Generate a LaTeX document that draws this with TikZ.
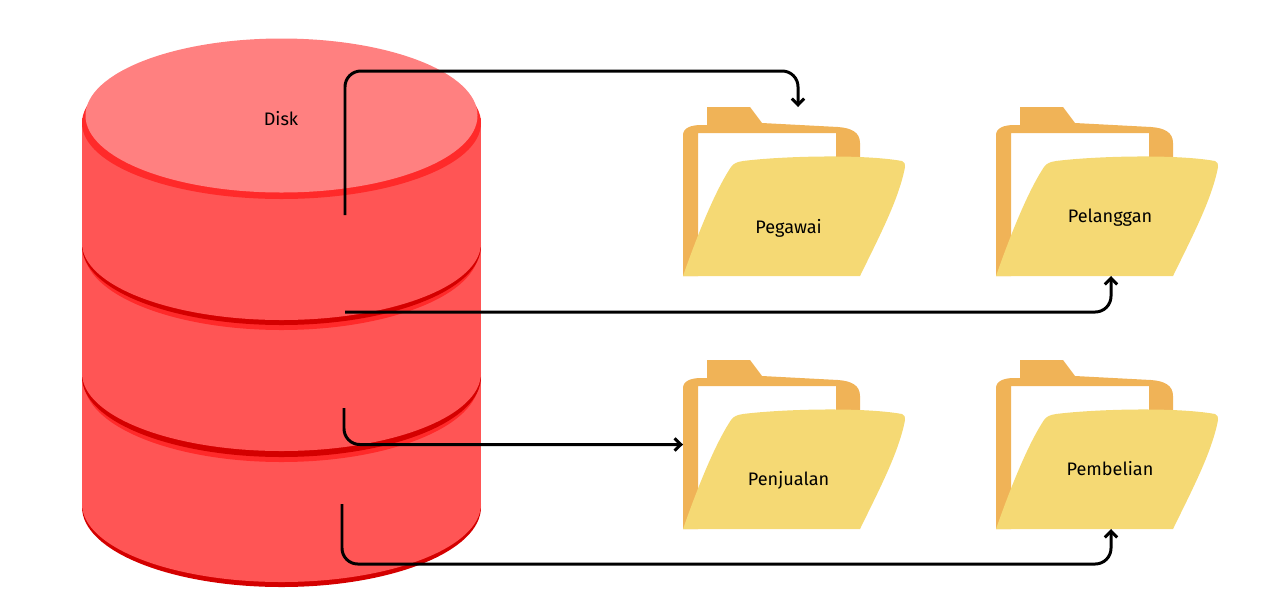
\documentclass[tikz,border=0pt]{standalone}
\usepackage{fontspec}
\setmainfont{Fira Sans}
\usepackage{xcolor}
\usetikzlibrary{arrows.meta}
\definecolor{dlight}{RGB}{255,128,128}
\definecolor{dbody}{RGB}{255,85,85}
\definecolor{dband}{RGB}{255,42,42}
\definecolor{ddark}{RGB}{212,0,0}
\definecolor{fback}{RGB}{240,179,87}
\definecolor{ffront}{RGB}{245,217,116}

\begin{document}
\begin{tikzpicture}[
      x=0.02cm, y=-0.02cm,
      tag/.style={font=\fontsize{10.3}{12}\selectfont, text=black, inner sep=0pt},
      folderbox/.style={minimum width=4.6cm, minimum height=3.38cm, inner sep=0pt, outer sep=0pt},
      >={Straight Barb[length=3.6pt,width=7pt,line width=1.7pt]},
      link/.style={->, line width=1.7pt, black, rounded corners=9pt},
      folder/.pic={
        \fill[fback] (0,169) -- (0,28) .. controls (0,21) and (8,18) .. (18,18) -- (24,18) -- (24,0)
          -- (67,0) -- (79,16) -- (155,20) .. controls (168,21) and (177,25) .. (177,36) -- (177,60)
          -- (153,60) -- (153,26) -- (15,26) -- (15,169) -- cycle;
        \fill[ffront] (0,169) .. controls (20,112) and (36,78) .. (48,60)
          .. controls (51,56) and (54,55) .. (60,54) .. controls (100,49) and (180,47) .. (219,54)
          .. controls (222,55) and (222,57) .. (222,60) .. controls (216,92) and (196,130) .. (177,169) -- cycle;
        \node[folderbox] (-box) at (115,84.5) {};
      }
    ]
    \useasboundingbox (0,0) rectangle (1283,613);
    % disk, from the bottom up
    \fill[ddark] (281.5,507) ellipse [x radius=199.5, y radius=80];
    \fill[dbody] (281.5,504) ellipse [x radius=199.5, y radius=78];
    \fill[dbody] (82,377) rectangle (481,505);
    \fill[dband] (281.5,381) ellipse [x radius=197.5, y radius=81];
    \fill[ddark] (281.5,377) ellipse [x radius=199.5, y radius=80];
    \fill[dbody] (281.5,373) ellipse [x radius=199.5, y radius=78];
    \fill[dbody] (82,247) rectangle (481,374);
    \fill[dband] (281.5,250) ellipse [x radius=197.5, y radius=80];
    \fill[ddark] (281.5,246) ellipse [x radius=199.5, y radius=79];
    \fill[dbody] (281.5,243) ellipse [x radius=199.5, y radius=77];
    \fill[dbody] (82,118) rectangle (481,244);
    \fill[dband] (281.5,123) ellipse [x radius=199.5, y radius=76];
    \fill[dlight] (281.5,115.5) ellipse [x radius=196, y radius=77];
    \node[tag] (disk) at (281,119) {Disk};

    % folders
    \pic (pegawai) at (683,107) {folder};
    \pic (pelanggan) at (996,107) {folder};
    \pic (penjualan) at (683,360) {folder};
    \pic (pembelian) at (996,360) {folder};
    \node[tag] (pegawaitag) at (788.5,228.5) {Pegawai};
    \node[tag] (pelanggantag) at (1110,217.5) {Pelanggan};
    \node[tag] (penjualantag) at (788.5,480) {Penjualan};
    \node[tag] (pembeliantag) at (1110,469) {Pembelian};

    % connectors
    \coordinate (outa) at (345,215);
    \coordinate (outb) at (345,312);
    \coordinate (outc) at (344,408);
    \coordinate (outd) at (342,504);
    \draw[link] (outa) -- ++(0,-144) -| (pegawai-box.north);
    \draw[link] (outb) -| (pelanggan-box.south);
    \draw[link] (outc) |- (penjualan-box.west);
    \draw[link] (outd) -- ++(0,60) -| (pembelian-box.south);
\end{tikzpicture}
\end{document}
